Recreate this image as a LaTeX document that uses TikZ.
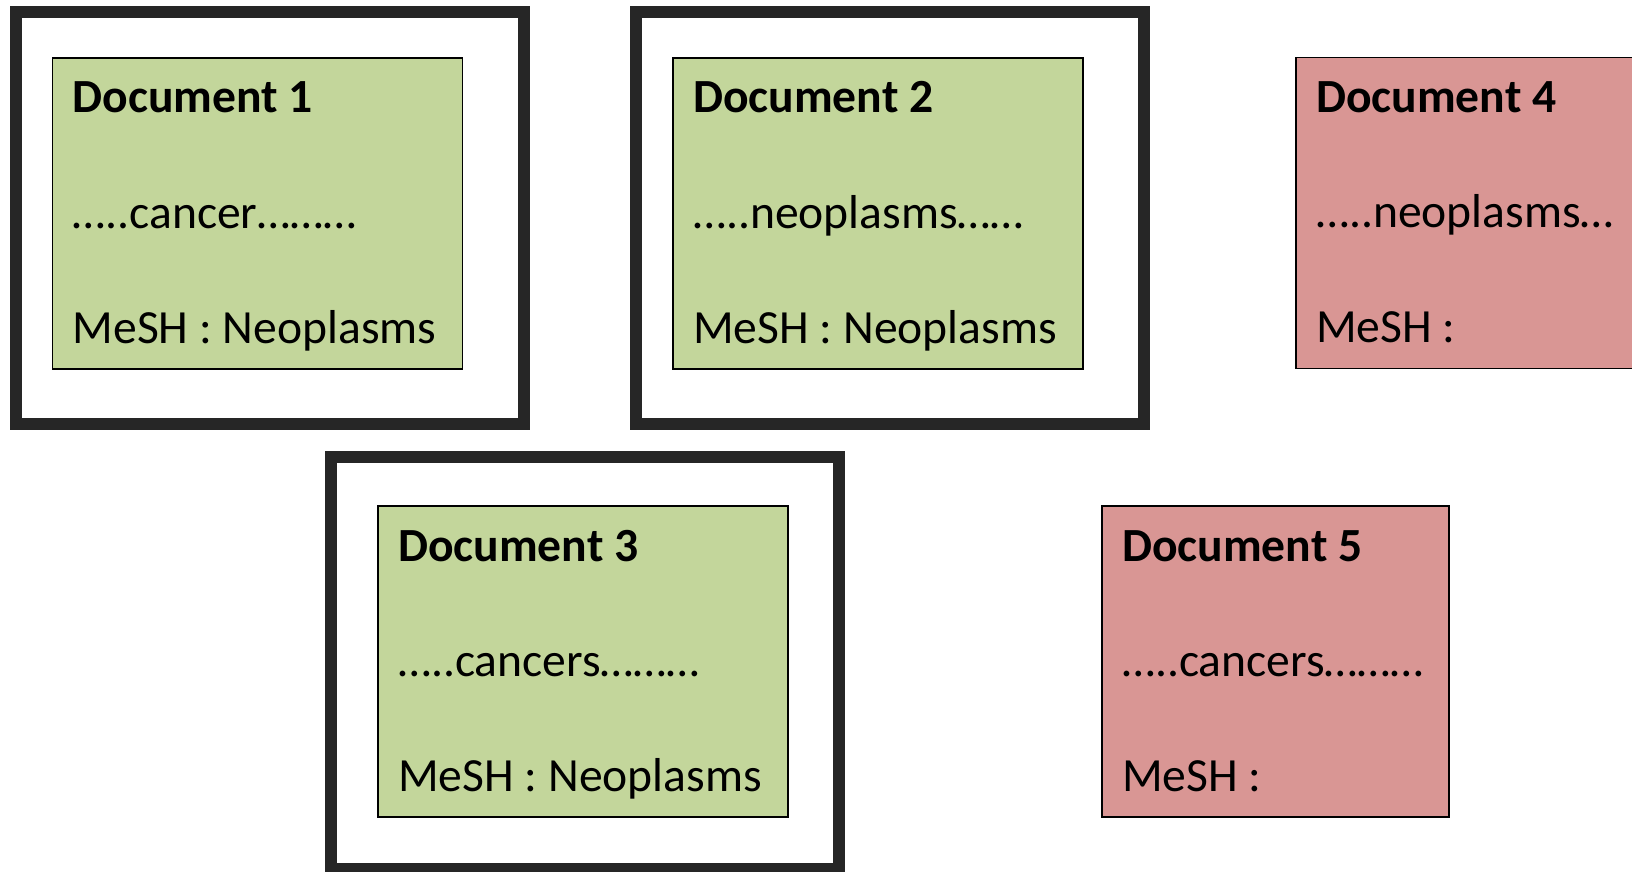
\documentclass[tikz,border=0pt]{standalone}
\usepackage{fontspec}
\setmainfont{Carlito}
\definecolor{docgreen}{HTML}{C3D69B}
\definecolor{docred}{HTML}{D99694}
\definecolor{framegray}{HTML}{262626}
\begin{document}
\begin{tikzpicture}[x=1pt,y=-1pt,
  frame/.style={draw=framegray, fill=white, line width=12pt, inner sep=0pt, outer sep=0pt, minimum width=508pt, minimum height=412pt, anchor=center},
  docbox/.style={draw=black, line width=1.3pt, inner sep=0pt, outer sep=0pt, minimum height=311pt, anchor=north west},
  title/.style={font=\fontsize{47.6}{52}\selectfont\bfseries, anchor=base west, inner sep=0pt},
  body/.style={font=\fontsize{47.6}{52}\selectfont, anchor=base west, inner sep=0pt}]
\useasboundingbox (0,0) rectangle (1632,872);
\clip (0,0) rectangle (1632,872);
% frames
\node[frame] (f1) at (269.75,218) {};
\node[frame] (f2) at (889.75,218) {};
\node[frame] (f3) at (585,663) {};
% document 1
\node[docbox, fill=docgreen, minimum width=410pt] (d1) at (52.5,58) {};
\node[title] (d1a) at ([shift={(20pt,-55pt)}]d1.north west) {Document 1};
\node[body] (d1b) at ([shift={(20pt,-170pt)}]d1.north west) {…..cancer………};
\node[body] (d1c) at ([shift={(20pt,-285pt)}]d1.north west) {MeSH : Neoplasms};
% document 2
\node[docbox, fill=docgreen, minimum width=410pt] (d2) at (673,58) {};
\node[title] (d2a) at ([shift={(20pt,-55pt)}]d2.north west) {Document 2};
\node[body] (d2b) at ([shift={(20pt,-170pt)}]d2.north west) {…..neoplasms……};
\node[body] (d2c) at ([shift={(20pt,-285pt)}]d2.north west) {MeSH : Neoplasms};
% document 4
\node[docbox, fill=docred, minimum width=420pt] (d4) at (1296,57.5) {};
\node[title] (d4a) at ([shift={(20pt,-55pt)}]d4.north west) {Document 4};
\node[body] (d4b) at ([shift={(20pt,-170pt)}]d4.north west) {…..neoplasms…};
\node[body] (d4c) at ([shift={(20pt,-285pt)}]d4.north west) {MeSH :};
% document 3
\node[docbox, fill=docgreen, minimum width=410pt] (d3) at (378,506) {};
\node[title] (d3a) at ([shift={(20pt,-55pt)}]d3.north west) {Document 3};
\node[body] (d3b) at ([shift={(20pt,-170pt)}]d3.north west) {…..cancers………};
\node[body] (d3c) at ([shift={(20pt,-285pt)}]d3.north west) {MeSH : Neoplasms};
% document 5
\node[docbox, fill=docred, minimum width=347pt] (d5) at (1102,506) {};
\node[title] (d5a) at ([shift={(20pt,-55pt)}]d5.north west) {Document 5};
\node[body] (d5b) at ([shift={(20pt,-170pt)}]d5.north west) {…..cancers………};
\node[body] (d5c) at ([shift={(20pt,-285pt)}]d5.north west) {MeSH :};
\end{tikzpicture}
\end{document}
